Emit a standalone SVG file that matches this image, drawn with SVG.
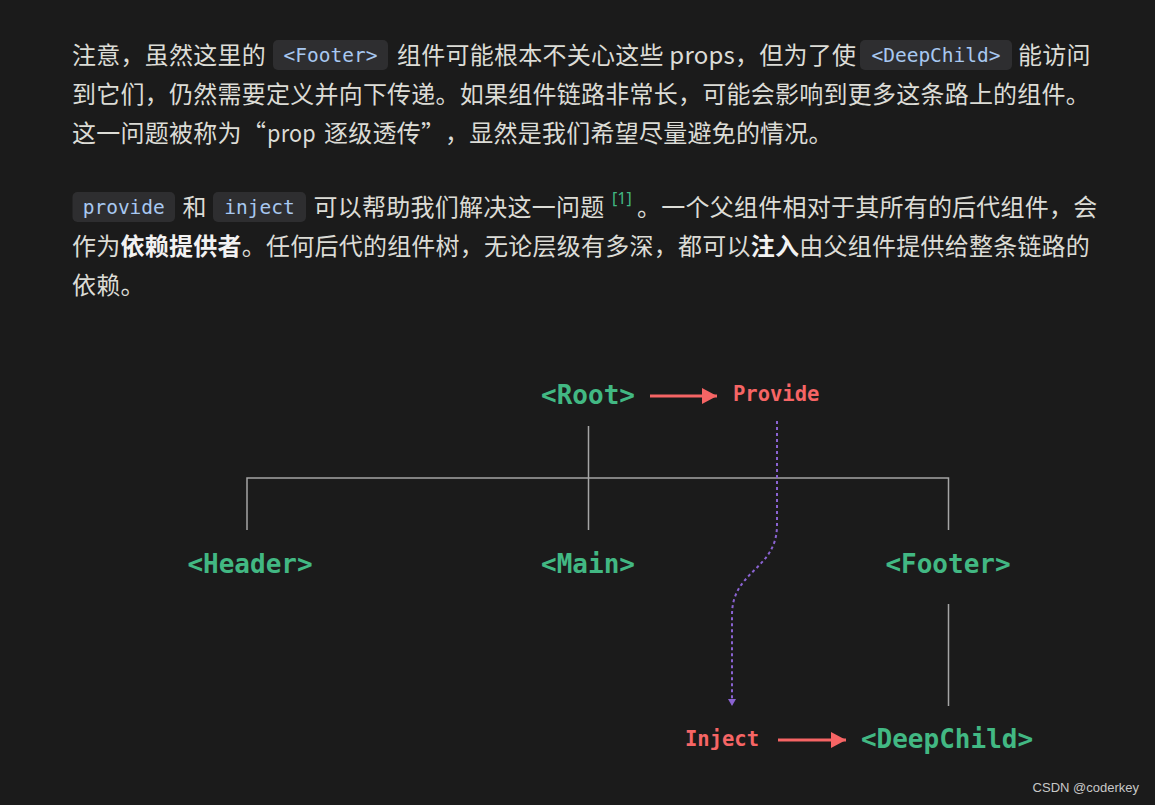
<svg xmlns="http://www.w3.org/2000/svg" width="1155" height="805" viewBox="0 0 1155 805">
<defs>
<style>
.body{font-family:"Noto Sans CJK SC","Noto Sans",sans-serif;font-size:24px;fill:#dcdcd6;letter-spacing:0.24px}
.b{font-weight:bold;fill:#f2f2f2}
.code{font-family:"DejaVu Sans Mono",monospace;font-size:19.5px;fill:#a8c8f0;text-anchor:middle}
.cbox{fill:#2e2e30}
.ref{font-family:"Noto Sans",sans-serif;font-size:16px;fill:#42b883}
.comp{font-family:"DejaVu Sans Mono",monospace;font-weight:bold;font-size:26px;fill:#42b883;text-anchor:middle}
.act{font-family:"DejaVu Sans Mono",monospace;font-weight:bold;font-size:20.5px;fill:#f66565}
.tree{stroke:#a5a5a5;stroke-width:1.5;fill:none}
.red{stroke:#f66565;stroke-width:3;fill:none}
.inj{stroke:#8a63d2;stroke-width:2;stroke-dasharray:3 3;fill:none}
.wm{font-family:"Liberation Sans",Arial,sans-serif;font-size:13px;fill:#c8c8c8;text-anchor:end}
</style>
<marker id="redHead" markerWidth="6" markerHeight="6" refX="5" refY="3" orient="auto" markerUnits="strokeWidth">
<path d="M0,0.3 L5,3 L0,5.7 Z" fill="#f66565"/>
</marker>
<marker id="purHead" markerWidth="5" markerHeight="5" refX="3.5" refY="2.5" orient="auto" markerUnits="strokeWidth">
<path d="M0,0.5 L3.5,2.5 L0,4.5 Z" fill="#8a63d2"/>
</marker>
</defs>
<rect width="1155" height="805" fill="#1b1b1b"/>

<g id="paragraph1">
<text class="body" x="72" y="63.5">注意，虽然这里的</text>
<rect class="cbox" x="273" y="40" width="115" height="30" rx="5"/>
<text class="code" x="330.5" y="62">&lt;Footer&gt;</text>
<text class="body" x="397" y="63.5">组件可能根本不关心这些 props，但为了使</text>
<rect class="cbox" x="860" y="40" width="152" height="30" rx="5"/>
<text class="code" x="936" y="62">&lt;DeepChild&gt;</text>
<text class="body" x="1018" y="63.5">能访问</text>
<text class="body" x="72" y="102.5">到它们，仍然需要定义并向下传递。如果组件链路非常长，可能会影响到更多这条路上的组件。</text>
<text class="body" x="72" y="141.5">这一问题被称为</text>
<text class="body" x="242" y="141.5">“</text>
<text class="body" x="267" y="141.5" textLength="49" lengthAdjust="spacingAndGlyphs">prop</text>
<text class="body" x="324" y="141.5">逐级透传</text>
<text class="body" x="421" y="141.5">”</text>
<text class="body" x="445" y="141.5">，显然是我们希望尽量避免的情况。</text>
</g>

<g id="paragraph2">
<rect class="cbox" x="72.5" y="192" width="102.5" height="30" rx="5"/>
<text class="code" x="123.75" y="214">provide</text>
<text class="body" x="182.5" y="215.5">和</text>
<rect class="cbox" x="213" y="192" width="93" height="30" rx="5"/>
<text class="code" x="259.5" y="214">inject</text>
<text class="body" x="313.5" y="215.5">可以帮助我们解决这一问题</text>
<text class="ref" x="612" y="204">[1]</text>
<text class="body" x="637" y="215.5">。一个父组件相对于其所有的后代组件，会</text>
<text class="body" x="72" y="254.5">作为<tspan class="b">依赖提供者</tspan>。任何后代的组件树，无论层级有多深，都可以<tspan class="b">注入</tspan>由父组件提供给整条链路的</text>
<text class="body" x="72" y="293.5">依赖。</text>
</g>

<g id="connectors">
<path class="tree" d="M588.5,426 V530"/>
<path class="tree" d="M247,530 V478 H948.5 V530"/>
<path class="tree" d="M948.5,604 V706"/>
<path class="red" d="M650,396 H717" marker-end="url(#redHead)"/>
<path class="red" d="M778,740 H846" marker-end="url(#redHead)"/>
<path class="inj" d="M777,421 V525 C777,570 732,570 732,615 V706" marker-end="url(#purHead)"/>
</g>

<g id="node-root"><text class="comp" x="588" y="404">&lt;Root&gt;</text></g>
<g id="node-provide"><text class="act" x="733" y="401">Provide</text></g>
<g id="node-header"><text class="comp" x="250" y="573">&lt;Header&gt;</text></g>
<g id="node-main"><text class="comp" x="588" y="573">&lt;Main&gt;</text></g>
<g id="node-footer"><text class="comp" x="948" y="573">&lt;Footer&gt;</text></g>
<g id="node-inject"><text class="act" x="685" y="746">Inject</text></g>
<g id="node-deepchild"><text class="comp" x="947" y="748">&lt;DeepChild&gt;</text></g>

<text class="wm" x="1139" y="792">CSDN @coderkey</text>
</svg>
